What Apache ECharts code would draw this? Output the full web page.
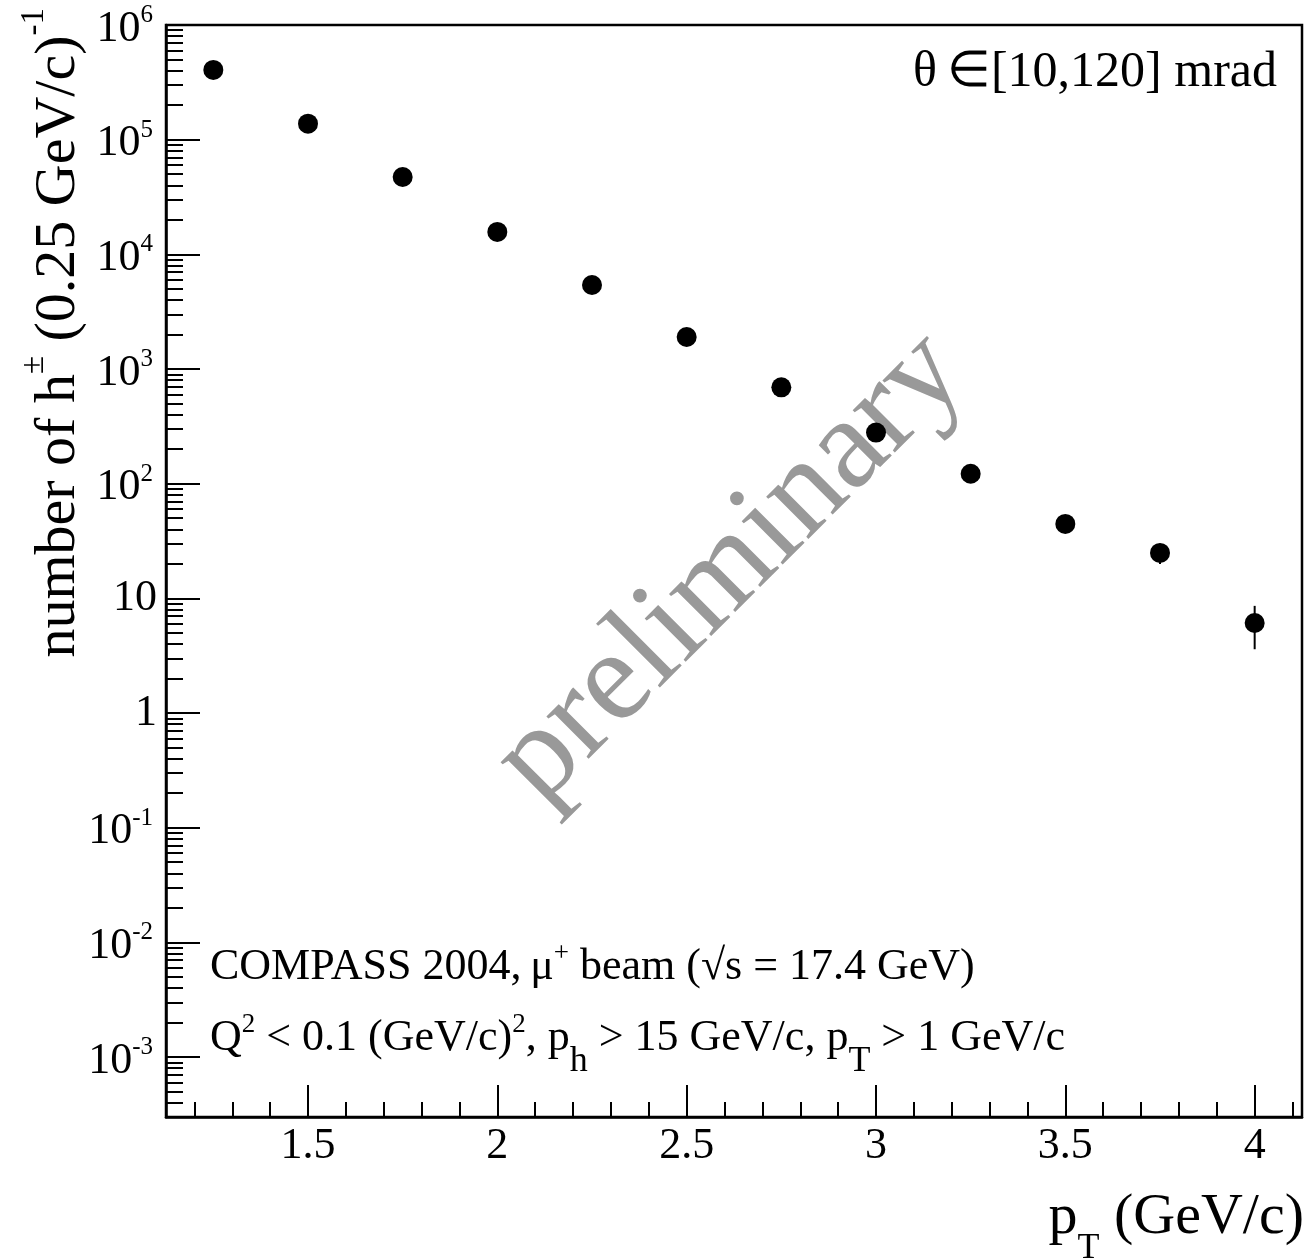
<!DOCTYPE html>
<html>
<head>
<meta charset="utf-8">
<title>h± pT spectrum</title>
<script src="https://cdn.jsdelivr.net/npm/echarts@6/dist/echarts.min.js"></script>
<style>
  html, body { margin: 0; padding: 0; background: #fff; }
  #chart { width: 1307px; height: 1260px; }
</style>
</head>
<body>
<div id="chart"></div>
<script>
// pT bin centres (GeV/c)
var PT = [1.25, 1.5, 1.75, 2.0, 2.25, 2.5, 2.75, 3.0, 3.25, 3.5, 3.75, 4.0];
// number of h± per 0.25 GeV/c bin
var COUNTS = [4.06e5, 1.38e5, 4.73e4, 1.57e4, 5.40e3, 1.90e3, 692, 279, 122, 44.6, 24.9, 6.1];
// statistical errors (only the last two stick out of the markers)
var ERRORS = [640, 370, 220, 125, 73, 44, 26, 17, 11, 6.7, 5.0, 2.5];

// axis ticks / labels
var X_MAJOR = [1.5, 2, 2.5, 3, 3.5, 4];
var X_MINOR = [1.2, 1.3, 1.4, 1.6, 1.7, 1.8, 1.9, 2.1, 2.2, 2.3, 2.4, 2.6, 2.7, 2.8, 2.9,
               3.1, 3.2, 3.3, 3.4, 3.6, 3.7, 3.8, 3.9, 4.1];
var Y_MAJOR = [1e-3, 1e-2, 1e-1, 1, 10, 1e2, 1e3, 1e4, 1e5, 1e6];
var Y_LABELS = ['{b|10}{s|-3}', '{b|10}{s|-2}', '{b|10}{s|-1}', '{n|1}', '{n|10}',
                '{b|10}{s|2}', '{b|10}{s|3}', '{b|10}{s|4}', '{b|10}{s|5}', '{b|10}{s|6}'];

var XMIN = 1.125, XMAX = 4.125;
var YMIN = 3e-4, YMAX = 1e6;

var FONT = 'Liberation Serif';

// minor log ticks 2..9 in every decade
var Y_MINOR = [];
for (var k = -4; k <= 5; k++) {
    for (var m = 2; m <= 9; m++) {
        var v = m * Math.pow(10, k);
        if (v > YMIN * 1.001 && v < YMAX) Y_MINOR.push(v);
    }
}

var chart = echarts.init(document.getElementById('chart'), null, { renderer: 'canvas' });

var errData = [];
var ptsData = [];
for (var i = 0; i < PT.length; i++) {
    errData.push([PT[i], COUNTS[i] - ERRORS[i], COUNTS[i] + ERRORS[i]]);
    ptsData.push([PT[i], COUNTS[i]]);
}

var labelRich = {
    b: { fontFamily: FONT, fontSize: 44, lineHeight: 44, color: '#000', padding: [4, 0, 0, 0], verticalAlign: 'top' },
    s: { fontFamily: FONT, fontSize: 25, lineHeight: 25, color: '#000', padding: [0, 4, 0, 0], verticalAlign: 'top' },
    n: { fontFamily: FONT, fontSize: 44, lineHeight: 44, color: '#000' }
};

var textRich = {
    t: { fontFamily: FONT, fontSize: 44, lineHeight: 44, padding: [10, 0, 0, 0], verticalAlign: 'top', fill: '#000' },
    u: { fontFamily: FONT, fontSize: 27, lineHeight: 27, padding: [5, 0, 0, 0], verticalAlign: 'top', fill: '#000' },
    d: { fontFamily: FONT, fontSize: 36, lineHeight: 36, padding: [38, 0, 0, 0], verticalAlign: 'top', fill: '#000' }
};

var titleRich = {
    t: { fontFamily: FONT, fontSize: 58, lineHeight: 58, padding: [12, 0, 0, 0], verticalAlign: 'top', fill: '#000' },
    u: { fontFamily: FONT, fontSize: 33, lineHeight: 33, verticalAlign: 'top', fill: '#000' },
    d: { fontFamily: FONT, fontSize: 36, lineHeight: 36, padding: [54, 0, 0, 0], verticalAlign: 'top', fill: '#000' }
};

var option = {
    animation: false,
    backgroundColor: '#fff',
    grid: {
        left: 166, right: 5, top: 25, bottom: 143,
        show: true, borderColor: '#000', borderWidth: 2.5, backgroundColor: 'transparent'
    },
    xAxis: [
        {
            type: 'value', min: XMIN, max: XMAX, position: 'bottom',
            axisLine: { lineStyle: { color: '#000', width: 2.5 } },
            axisTick: { inside: true, length: 32, customValues: X_MAJOR, lineStyle: { color: '#000', width: 2 } },
            axisLabel: {
                customValues: X_MAJOR, margin: 7,
                fontFamily: FONT, fontSize: 44, lineHeight: 44, color: '#000'
            },
            splitLine: { show: false }
        },
        {
            type: 'value', min: XMIN, max: XMAX, position: 'bottom',
            axisLine: { show: false },
            axisTick: { inside: true, length: 15, customValues: X_MINOR, lineStyle: { color: '#000', width: 2 } },
            axisLabel: { show: false },
            splitLine: { show: false }
        }
    ],
    yAxis: [
        {
            type: 'log', logBase: 10, min: YMIN, max: YMAX, position: 'left',
            axisLine: { show: true, lineStyle: { color: '#000', width: 2.5 } },
            axisTick: { inside: true, length: 34, customValues: Y_MAJOR, lineStyle: { color: '#000', width: 2 } },
            axisLabel: {
                customValues: Y_MAJOR, margin: 9,
                formatter: function(val) {
                    var e = Math.round(Math.log10(val));
                    return Y_LABELS[Y_MAJOR.indexOf(Math.pow(10, e))] || '';
                },
                rich: labelRich
            },
            splitLine: { show: false }
        },
        {
            type: 'log', logBase: 10, min: YMIN, max: YMAX, position: 'left',
            axisLine: { show: false },
            axisTick: { inside: true, length: 17, customValues: Y_MINOR, lineStyle: { color: '#000', width: 2 } },
            axisLabel: { show: false },
            splitLine: { show: false }
        }
    ],
    graphic: [
        {
            // watermark
            type: 'text', x: 731, y: 568, rotation: Math.PI / 4, z: -1,
            style: {
                text: 'preliminary', fill: '#999999',
                font: '130px "Liberation Serif"', align: 'center', verticalAlign: 'middle'
            }
        },
        {
            type: 'text', x: 1277, y: 48,
            style: {
                text: 'θ\u2009∈[10,120] mrad', fill: '#000',
                font: '50px "Liberation Serif"', align: 'right', verticalAlign: 'top'
            }
        },
        {
            type: 'text', x: 210, y: 935,
            style: {
                text: '{t|COMPASS 2004,\u2009μ}{u|+}{t| beam (√s = 17.4 GeV)}',
                rich: textRich, align: 'left', verticalAlign: 'top'
            }
        },
        {
            type: 'text', x: 210, y: 1006,
            style: {
                text: '{t|Q}{u|2}{t| < 0.1 (GeV/c)}{u|2}{t|, p}{d|h}{t| > 15 GeV/c, p}{d|T}{t| > 1 GeV/c}',
                rich: textRich, align: 'left', verticalAlign: 'top'
            }
        },
        {
            // x axis title
            type: 'text', x: 1304, y: 1177,
            style: {
                text: '{t|p}{d|T}{t| (GeV/c)}',
                rich: titleRich, align: 'right', verticalAlign: 'top'
            }
        },
        {
            // y axis title
            type: 'text', x: 18, y: 8, rotation: Math.PI / 2,
            style: {
                text: '{t|number of h}{u|±}{t| (0.25 GeV/c)}{u|-1}',
                rich: titleRich, align: 'right', verticalAlign: 'top'
            }
        }
    ],
    series: [
        {
            name: 'err',
            type: 'custom',
            xAxisIndex: 0, yAxisIndex: 0,
            data: errData,
            encode: { x: 0, y: [1, 2] },
            z: 3,
            renderItem: function(params, api) {
                var lo = api.coord([api.value(0), api.value(1)]);
                var hi = api.coord([api.value(0), api.value(2)]);
                return {
                    type: 'line',
                    shape: { x1: lo[0], y1: lo[1], x2: hi[0], y2: hi[1] },
                    style: { stroke: '#000', lineWidth: 2 }
                };
            }
        },
        {
            name: 'h±',
            type: 'scatter',
            xAxisIndex: 0, yAxisIndex: 0,
            data: ptsData,
            symbol: 'circle',
            symbolSize: 20,
            itemStyle: { color: '#000', opacity: 1 },
            z: 4
        }
    ]
};

chart.setOption(option);
</script>
</body>
</html>
